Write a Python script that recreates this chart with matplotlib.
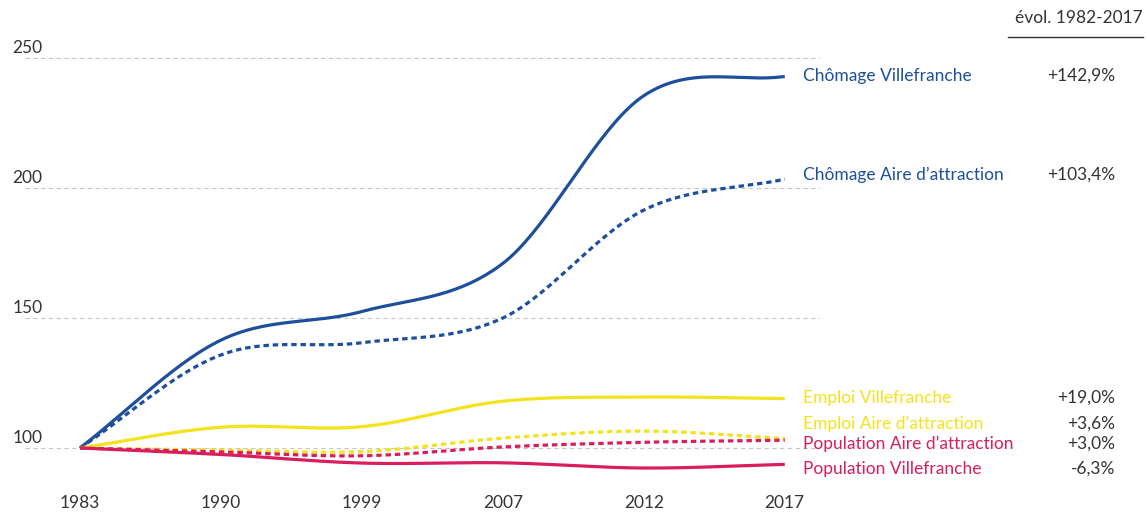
import numpy as np
import matplotlib
matplotlib.use("Agg")
import matplotlib.pyplot as plt

plt.rcParams['font.family'] = ['Lato', 'DejaVu Sans']

# données (base 100 en 1983)
annees = ["1983", "1990", "1999", "2007", "2012", "2017"]
chomage_ville = [100, 141.5, 152.5, 171, 235.5, 242.9]
chomage_aire = [100, 135.8, 140.5, 150, 191.5, 203.4]
emploi_ville = [100, 108, 108.2, 118, 119.6, 119.0]
emploi_aire = [100, 99.2, 98.6, 103.8, 106.5, 103.6]
pop_aire = [100, 98.5, 97, 100.4, 102.2, 103.0]
pop_ville = [100, 97.5, 94.2, 94.3, 92.3, 93.7]

noms = ["Chômage Villefranche", "Chômage Aire d\u2019attraction",
        "Emploi Villefranche", "Emploi Aire d\u2019attraction",
        "Population Aire d\u2019attraction", "Population Villefranche"]
evolutions = ["+142,9%", "+103,4%", "+19,0%", "+3,6%", "+3,0%", "-6,3%"]

BLEU = "#1d4f9c"
JAUNE = "#f3e21c"
ROUGE = "#d81e5b"


def lisse(x, y, n=40):
    # spline de Catmull-Rom pour le tracé lisse
    x = np.asarray(x, float)
    y = np.asarray(y, float)
    h = np.diff(x)
    d = np.diff(y) / h
    m = np.zeros_like(y)
    m[0], m[-1] = d[0], d[-1]
    for i in range(1, len(y) - 1):
        m[i] = (y[i + 1] - y[i - 1]) / (x[i + 1] - x[i - 1])
    xs, ys = [], []
    for i in range(len(x) - 1):
        t = np.linspace(0, 1, n)
        h00 = 2 * t**3 - 3 * t**2 + 1
        h10 = t**3 - 2 * t**2 + t
        h01 = -2 * t**3 + 3 * t**2
        h11 = t**3 - t**2
        xs.append(x[i] + t * h[i])
        ys.append(h00 * y[i] + h10 * h[i] * m[i] + h01 * y[i + 1] + h11 * h[i] * m[i + 1])
    return np.concatenate(xs), np.concatenate(ys)


fig = plt.figure(figsize=(11.46, 5.15), dpi=100)
W, H = 1146, 515
# axes: x de 25 à 820 px, y de 19 à 487 px
ax = fig.add_axes([25 / W, 1 - 487 / H, 795 / W, 468 / H])
ax.set_xlim(-0.39, 5.25)
ax.set_ylim(85, 265)

xi = np.arange(len(annees))
tirets = (0, (1.7, 1.2))
series = [
    (chomage_ville, BLEU, "-"),
    (chomage_aire, BLEU, tirets),
    (emploi_ville, JAUNE, "-"),
    (emploi_aire, JAUNE, tirets),
    (pop_aire, ROUGE, tirets),
    (pop_ville, ROUGE, "-"),
]
couleurs = [s[1] for s in series]

# grille
for v in [100, 150, 200, 250]:
    ax.axhline(v, color="#c8c8c8", lw=0.8, ls=(0, (4, 3)), zorder=1)
    ax.text(-0.016, v + 0.8, str(v), transform=ax.get_yaxis_transform(),
            ha="left", va="bottom", fontsize=12.5, color="#333333")

for vals, c, ls in series:
    xs, ys = lisse(xi, vals)
    ax.plot(xs, ys, color=c, lw=2.3, ls=ls, solid_capstyle="butt", zorder=3)

ax.set_xticks(xi)
ax.set_xticklabels(annees, fontsize=12.5, color="#333333")
ax.tick_params(axis="x", length=0, pad=6)
ax.set_yticks([])
for s in ax.spines.values():
    s.set_visible(False)

# étiquettes à droite
pos_y = [76, 175, 398, 424, 444, 469]
for nom, evo, c, py in zip(noms, evolutions, couleurs, pos_y):
    fig.text(803 / W, 1 - py / H, nom, ha="left", va="center",
             fontsize=12.5, color=c)
    fig.text(1115 / W, 1 - py / H, evo, ha="right", va="center",
             fontsize=12.5, color="#333333")

fig.text(1143 / W, 1 - 18 / H, "évol. 1982-2017", ha="right", va="center",
         fontsize=12.5, color="#333333")
fig.add_artist(plt.Line2D([1008 / W, 1143 / W], [1 - 37 / H, 1 - 37 / H],
                          color="#333333", lw=1))

fig.savefig("out.png", dpi=100)
